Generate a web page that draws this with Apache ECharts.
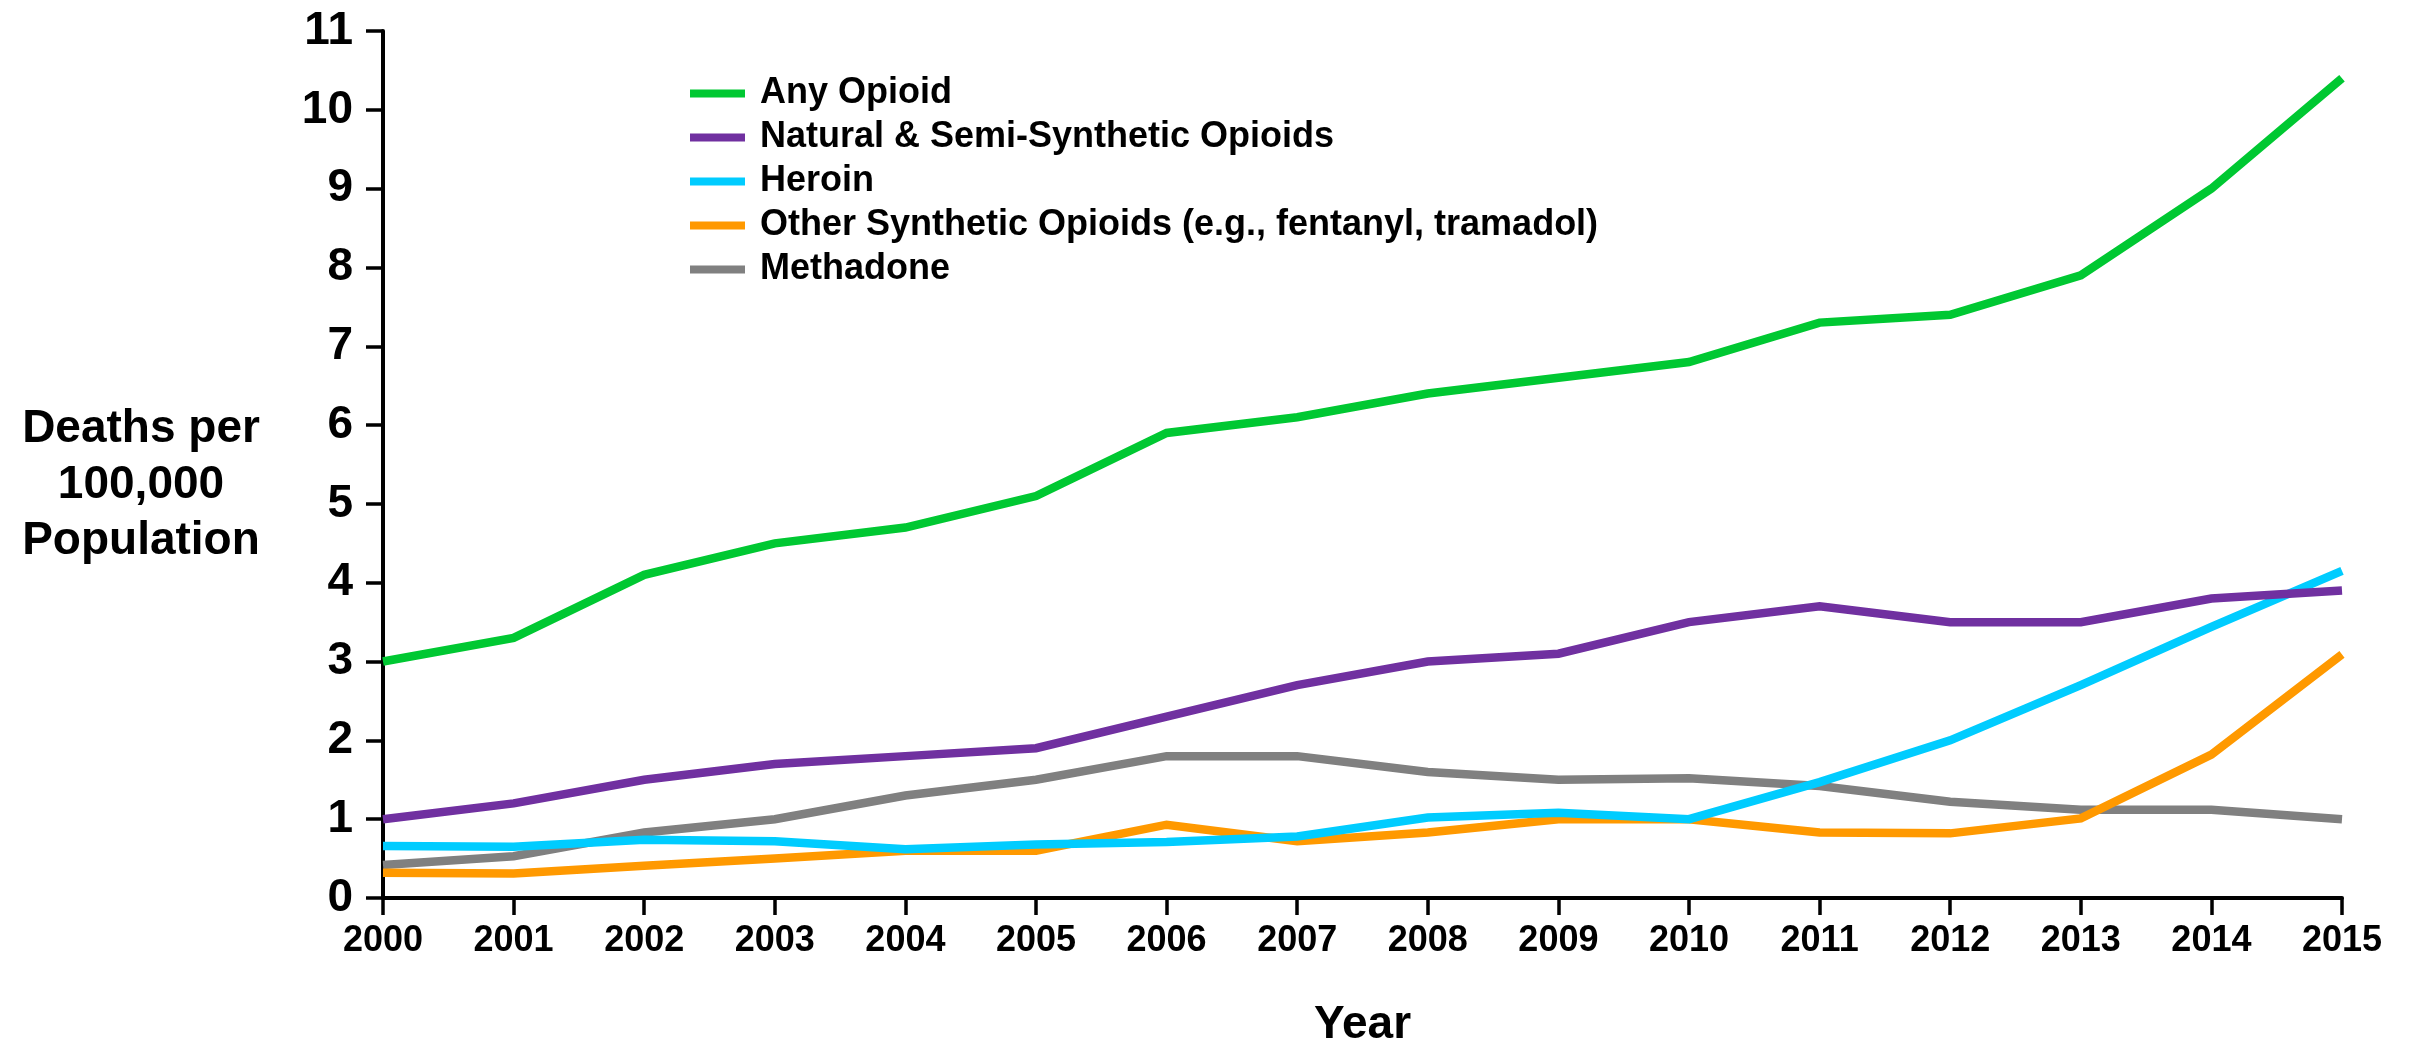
<!DOCTYPE html>
<html>
<head>
<meta charset="utf-8">
<script src="https://cdn.jsdelivr.net/npm/echarts@6/dist/echarts.min.js"></script>
<style>
  html, body { margin: 0; padding: 0; background: #ffffff; }
  #chart { width: 2410px; height: 1053px; }
</style>
</head>
<body>
<div id="chart"></div>
<script>
const years = ['2000','2001','2002','2003','2004','2005','2006','2007','2008','2009','2010','2011','2012','2013','2014','2015'];
const anyOpioid = [3.0, 3.3, 4.1, 4.5, 4.7, 5.1, 5.9, 6.1, 6.4, 6.6, 6.8, 7.3, 7.4, 7.9, 9.0, 10.4];
const naturalSemi = [1.0, 1.2, 1.5, 1.7, 1.8, 1.9, 2.3, 2.7, 3.0, 3.1, 3.5, 3.7, 3.5, 3.5, 3.8, 3.9];
const heroin = [0.66, 0.65, 0.74, 0.72, 0.62, 0.68, 0.71, 0.78, 1.02, 1.08, 1.0, 1.47, 2.0, 2.7, 3.44, 4.15];
const otherSynthetic = [0.32, 0.31, 0.41, 0.5, 0.6, 0.6, 0.93, 0.72, 0.83, 1.0, 1.0, 0.83, 0.82, 1.01, 1.82, 3.09];
const methadone = [0.42, 0.53, 0.83, 1.0, 1.3, 1.5, 1.8, 1.8, 1.6, 1.5, 1.52, 1.42, 1.22, 1.12, 1.12, 1.0];
const yTicks = { min: 0, max: 11, interval: 1 };
const yAxisTitle = 'Deaths per\n100,000\nPopulation';
const xAxisTitle = 'Year';

const seriesNames = [
  'Any Opioid',
  'Natural & Semi-Synthetic Opioids',
  'Heroin',
  'Other Synthetic Opioids (e.g., fentanyl, tramadol)',
  'Methadone'
];
const seriesData = [anyOpioid, naturalSemi, heroin, otherSynthetic, methadone];
const colors = ['#00C832', '#7030A0', '#00CCFF', '#FF9900', '#808080'];

const FONT = '"Liberation Sans", Arial, Helvetica, sans-serif';

const chart = echarts.init(document.getElementById('chart'), null, { renderer: 'canvas' });

const drawOrder = [4, 3, 2, 1, 0];

chart.setOption({
  animation: false,
  backgroundColor: '#ffffff',
  color: colors,
  grid: { left: 383, right: 68, top: 31, bottom: 140, containLabel: false },
  graphic: [{
    type: 'text',
    x: 141,
    y: 485,
    silent: true,
    style: {
      text: yAxisTitle,
      fontFamily: FONT,
      fontWeight: 'bold',
      fontSize: 46,
      lineHeight: 56,
      fill: '#000',
      align: 'center',
      verticalAlign: 'middle'
    }
  }],
  legend: {
    orient: 'vertical',
    left: 690,
    top: 75,
    padding: 0,
    itemGap: 7,
    itemWidth: 55,
    itemHeight: 8,
    icon: 'rect',
    data: seriesNames,
    textStyle: {
      fontFamily: FONT,
      fontWeight: 'bold',
      fontSize: 36,
      lineHeight: 37,
      color: '#000',
      padding: [0, 0, 0, 10]
    }
  },
  xAxis: {
    type: 'category',
    data: years,
    boundaryGap: false,
    name: xAxisTitle,
    nameLocation: 'middle',
    nameGap: 104,
    nameTextStyle: { fontFamily: FONT, fontWeight: 'bold', fontSize: 46, color: '#000' },
    axisLine: { lineStyle: { color: '#000', width: 4 } },
    axisTick: { show: true, length: 17, lineStyle: { color: '#000', width: 3.5 } },
    axisLabel: {
      margin: 25,
      fontFamily: FONT,
      fontWeight: 'bold',
      fontSize: 36,
      color: '#000'
    },
    splitLine: { show: false }
  },
  yAxis: {
    type: 'value',
    min: yTicks.min,
    max: yTicks.max,
    interval: yTicks.interval,
    axisLine: { show: true, lineStyle: { color: '#000', width: 4 } },
    axisTick: { show: true, length: 17, lineStyle: { color: '#000', width: 3.5 } },
    axisLabel: {
      margin: 30,
      fontFamily: FONT,
      fontWeight: 'bold',
      fontSize: 46,
      color: '#000'
    },
    splitLine: { show: false }
  },
  series: drawOrder.map(i => ({
    name: seriesNames[i],
    type: 'line',
    data: seriesData[i],
    symbol: 'none',
    showSymbol: false,
    smooth: false,
    lineStyle: { width: 8.5, color: colors[i], join: 'miter' },
    itemStyle: { color: colors[i] },
    z: 2 + (4 - i)
  }))
});
</script>
</body>
</html>
